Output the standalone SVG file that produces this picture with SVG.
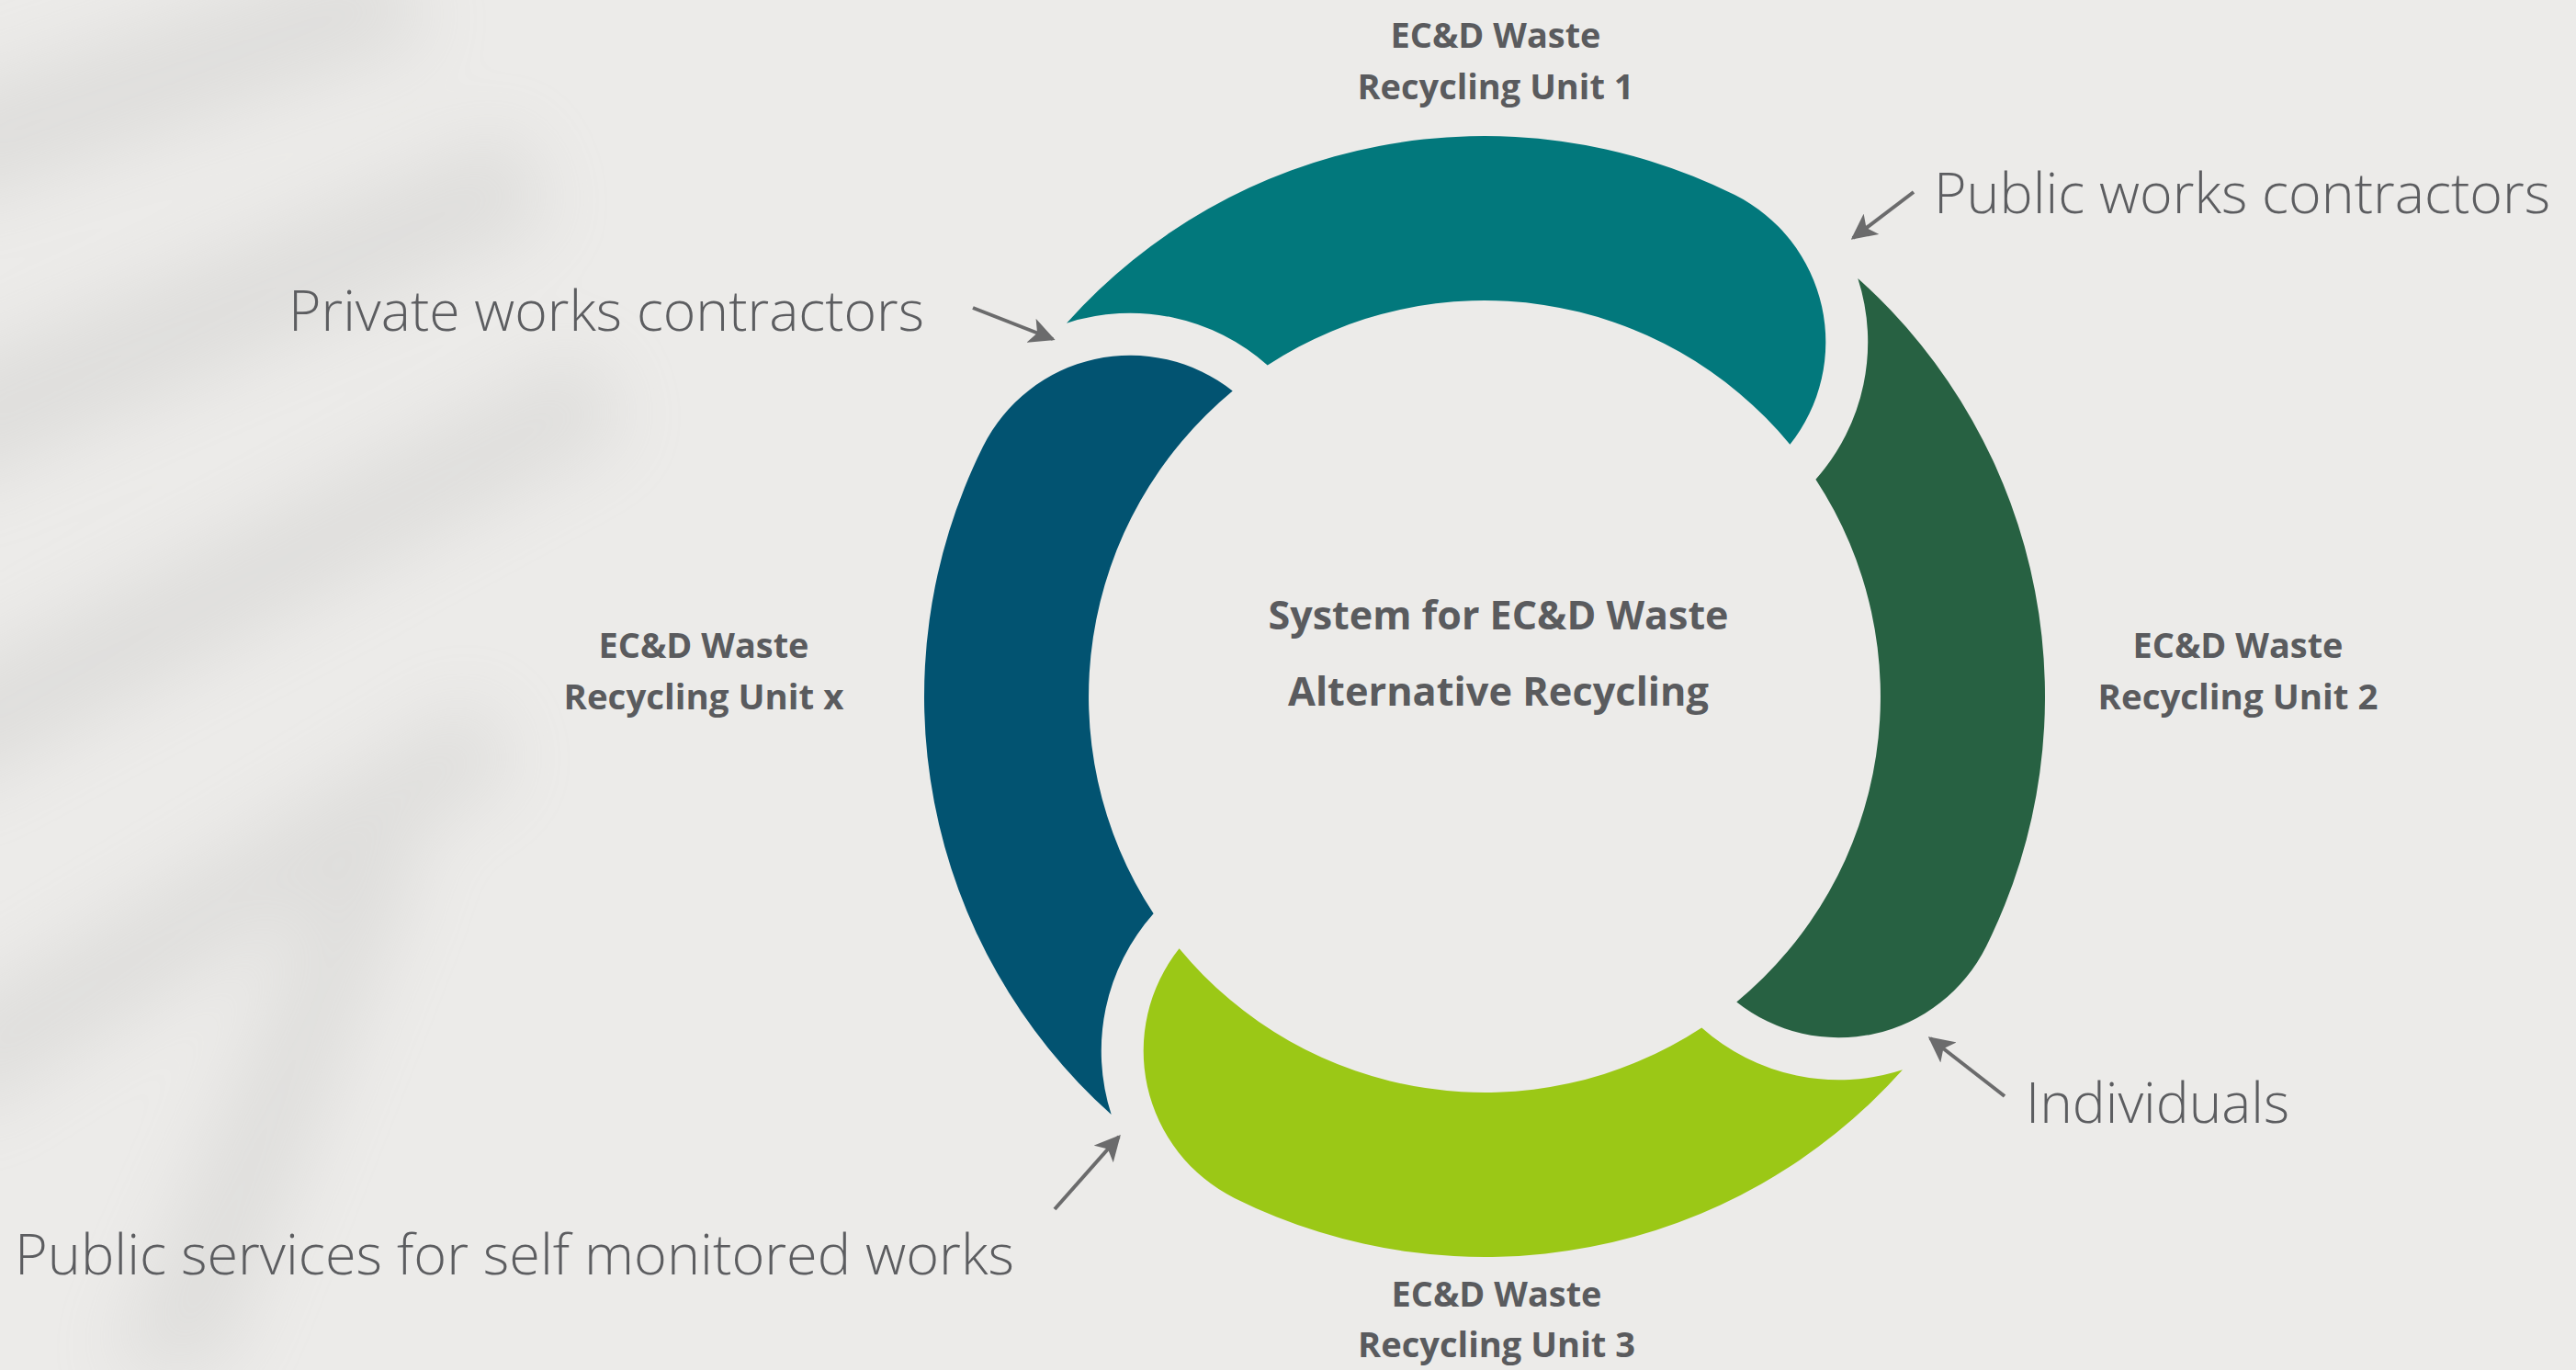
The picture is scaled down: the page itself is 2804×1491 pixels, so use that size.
<svg xmlns="http://www.w3.org/2000/svg" width="2804" height="1491" viewBox="0 0 2804 1491">
  <defs>
    <style>
      .unit { font-family: "Open Sans", "Liberation Sans", sans-serif; font-weight: 700; font-size: 37px; fill: #5a5b5e; text-anchor: middle; }
      .center { font-family: "Open Sans", "Liberation Sans", sans-serif; font-weight: 700; font-size: 43px; fill: #5a5b5e; text-anchor: middle; }
      .actor { font-family: "Open Sans", "Liberation Sans", sans-serif; font-weight: 300; font-size: 60px; fill: #5c5d60; }
      .conn { stroke: #6b6b6c; stroke-width: 4; fill: none; marker-end: url(#ah); }
    </style>
    <marker id="ah" viewBox="0 0 10 10" refX="9" refY="5" markerWidth="7" markerHeight="7" orient="auto" markerUnits="strokeWidth">
      <path d="M0,0 L10,5 L0,10 L2.5,5 Z" fill="#6b6b6c"/>
    </marker>
    <path id="seg" d="M -455.0 -406.3 A 610 610 0 0 1 272.2 -545.9 A 179 179 0 0 1 332.4 -274.3 A 431 431 0 0 0 -236.3 -360.4 A 225 225 0 0 0 -455.0 -406.3 Z"/>
    <filter id="blur" x="-50%" y="-50%" width="200%" height="200%">
      <feGaussianBlur stdDeviation="40"/>
    </filter>
  </defs>

  <rect x="0" y="0" width="2804" height="1491" fill="#ecebe9"/>
  <g id="shadows" filter="url(#blur)" fill="#b5b5b3" opacity="0.24">
    <path d="M -100 120 L 420 -60 L 470 40 L -60 230 Z"/>
    <path d="M -100 420 L 560 140 L 600 240 L -60 540 Z"/>
    <path d="M -100 760 L 640 380 L 680 470 L -60 870 Z"/>
    <path d="M 120 1491 L 380 900 L 460 930 L 240 1491 Z"/>
    <path d="M -80 1120 L 520 760 L 560 840 L -40 1220 Z"/>
  </g>

  <g id="segment-unit-1">
    <use href="#seg" transform="translate(1616,758)" fill="#02787c"/>
  </g>
  <g id="segment-unit-2">
    <use href="#seg" transform="translate(1616,758) rotate(90)" fill="#276142"/>
  </g>
  <g id="segment-unit-3">
    <use href="#seg" transform="translate(1616,758) rotate(180)" fill="#9bc816"/>
  </g>
  <g id="segment-unit-x">
    <use href="#seg" transform="translate(1616,758) rotate(270)" fill="#025371"/>
  </g>

  <g id="center-label">
    <text class="center" x="1631" y="685" textLength="501" lengthAdjust="spacingAndGlyphs">System for EC&amp;D Waste</text>
    <text class="center" x="1631" y="768" textLength="458" lengthAdjust="spacingAndGlyphs">Alternative Recycling</text>
  </g>

  <g id="label-unit-1">
    <text class="unit" x="1628" y="52" textLength="229" lengthAdjust="spacingAndGlyphs">EC&amp;D Waste</text>
    <text class="unit" x="1628" y="108" textLength="301" lengthAdjust="spacingAndGlyphs">Recycling Unit 1</text>
  </g>
  <g id="label-unit-2">
    <text class="unit" x="2436" y="716" textLength="229" lengthAdjust="spacingAndGlyphs">EC&amp;D Waste</text>
    <text class="unit" x="2436" y="772" textLength="305" lengthAdjust="spacingAndGlyphs">Recycling Unit 2</text>
  </g>
  <g id="label-unit-3">
    <text class="unit" x="1629" y="1422" textLength="229" lengthAdjust="spacingAndGlyphs">EC&amp;D Waste</text>
    <text class="unit" x="1629" y="1477" textLength="302" lengthAdjust="spacingAndGlyphs">Recycling Unit 3</text>
  </g>
  <g id="label-unit-x">
    <text class="unit" x="766" y="716" textLength="229" lengthAdjust="spacingAndGlyphs">EC&amp;D Waste</text>
    <text class="unit" x="766" y="772" textLength="305" lengthAdjust="spacingAndGlyphs">Recycling Unit x</text>
  </g>

  <g id="actor-private">
    <text class="actor" x="314" y="360" textLength="692" lengthAdjust="spacingAndGlyphs">Private works contractors</text>
  </g>
  <g id="actor-public-works">
    <text class="actor" x="2105" y="232" textLength="671" lengthAdjust="spacingAndGlyphs">Public works contractors</text>
  </g>
  <g id="actor-individuals">
    <text class="actor" x="2205" y="1222" textLength="287" lengthAdjust="spacingAndGlyphs">Individuals</text>
  </g>
  <g id="actor-public-services">
    <text class="actor" x="16" y="1387" textLength="1088" lengthAdjust="spacingAndGlyphs">Public services for self monitored works</text>
  </g>

  <g id="connectors">
    <line class="conn" x1="1059" y1="335" x2="1146" y2="369"/>
    <line class="conn" x1="2083" y1="209" x2="2017" y2="259"/>
    <line class="conn" x1="2182" y1="1193" x2="2101" y2="1130"/>
    <line class="conn" x1="1148" y1="1316" x2="1218" y2="1237"/>
  </g>
</svg>
